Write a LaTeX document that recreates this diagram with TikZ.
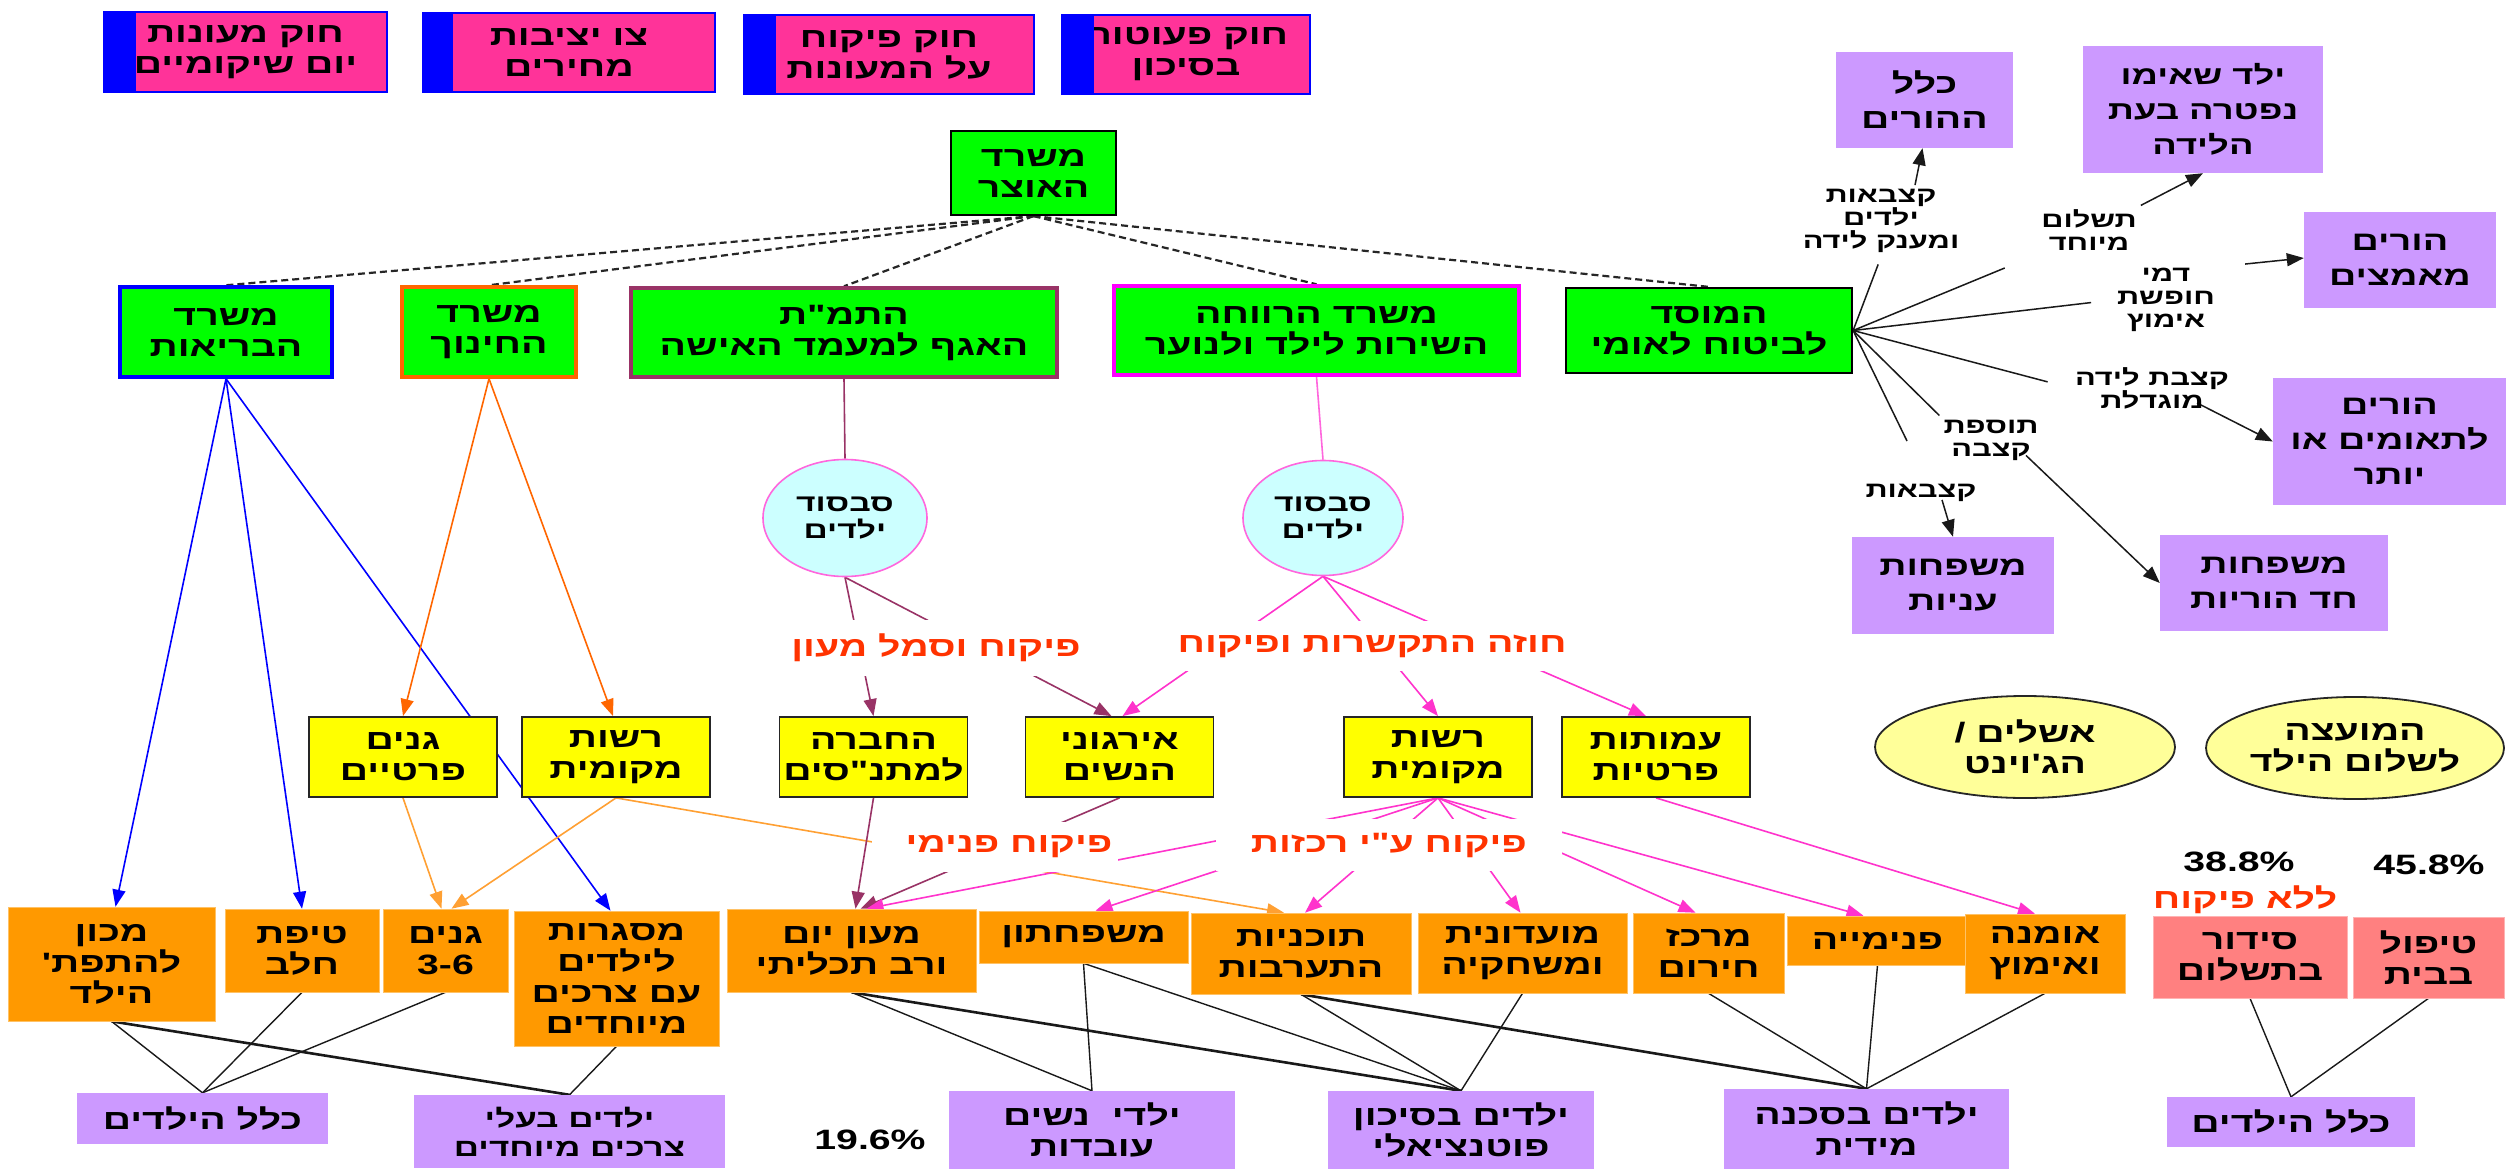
\documentclass[tikz,border=0pt]{standalone}
\usepackage{fontspec}
\setmainfont{Liberation Sans}[Script=Hebrew,FakeStretch=1.4,Ligatures=TeXOff]
\usetikzlibrary{shapes.geometric,arrows.meta,backgrounds}
\TeXXeTstate=1
\newcommand\hb[1]{\beginR#1\endR}
\newcommand\fz[2]{\fontsize{#1}{#2}\selectfont}
\definecolor{lawpink}{HTML}{FF3399}
\definecolor{cGreen}{HTML}{00FF00}
\definecolor{cYel}{HTML}{FFFF00}
\definecolor{cYel2}{HTML}{FFFF99}
\definecolor{cOrg}{HTML}{FF9900}
\definecolor{cPur}{HTML}{CC99FF}
\definecolor{cSal}{HTML}{FF8080}
\definecolor{cCyan}{HTML}{CCFFFF}
\definecolor{cMar}{HTML}{993366}
\definecolor{cMag}{HTML}{FF00FF}
\definecolor{cPink}{HTML}{FF33CC}
\definecolor{cPinkL}{HTML}{FF66DD}
\definecolor{cOrL}{HTML}{FFA033}
\definecolor{cOrD}{HTML}{FF6600}
\definecolor{cRed}{HTML}{FF3300}
\begin{document}
\begin{tikzpicture}[x=1pt,y=-1pt,
  every node/.style={font=\bfseries\fz{28}{31}, align=center, inner sep=2pt},
  sz/.style 2 args={minimum width=#1pt, minimum height=#2pt},
  law/.style={rectangle, fill=lawpink, draw=blue, line width=1.5pt},
  gbox/.style={rectangle, fill=cGreen},
  ybox/.style={rectangle, fill=cYel, draw=black!85, line width=1.8pt},
  obox/.style={rectangle, fill=cOrg, draw=cOrg!60!white, line width=0.6pt},
  pbox/.style={rectangle, fill=cPur},
  sbox/.style={rectangle, fill=cSal, draw=cSal!60!white, line width=0.6pt},
  sell/.style={ellipse, fill=cCyan, draw=cPinkL, line width=1.6pt, inner sep=0pt, font=\bfseries\fz{24}{27}},
  yell/.style={ellipse, fill=cYel2, draw=black!85, line width=1.8pt, inner sep=0pt},
  rlbl/.style={fill=white, text=cRed, inner xsep=35pt, inner ysep=14pt},
  klbl/.style={font=\bfseries\fz{22}{23}, inner sep=4pt},
  arr/.style={-{Triangle[length=17pt,width=13pt]}},
  dsh/.style={dash pattern=on 7pt off 4pt, line width=2.2pt, black!85},
  cn/.style={line width=1.6pt},
  bl/.style={black!90, line width=1.4pt},
  bltwo/.style={black!90, line width=2.6pt}
]
\useasboundingbox (0,0) rectangle (2506,1169);

% ---- law boxes
\node[law, sz={283}{80}] (lawA) at (245.5,52) {\hb{חוק מעונות}\\\hb{יום שיקומיים}};
\fill[blue] (lawA.north west) rectangle ([xshift=33pt]lawA.south west);
\node[law, sz={292}{79}] (lawB) at (569,52.5) {\hb{צו יציבות}\\\hb{מחירים}};
\fill[blue] (lawB.north west) rectangle ([xshift=31pt]lawB.south west);
\node[law, sz={290}{79}] (lawC) at (889,54.5) {\hb{חוק פיקוח}\\\hb{על המעונות}};
\fill[blue] (lawC.north west) rectangle ([xshift=33pt]lawC.south west);
\node[law, sz={248}{79}] (lawD) at (1186,54.5) {\hb{חוק פעוטות}\\\hb{בסיכון}};
\fill[blue] (lawD.north west) rectangle ([xshift=33pt]lawD.south west);

% ---- ministries
\node[gbox, draw=black, line width=2.2pt, sz={165}{84}] (oz) at (1033.5,173) {\hb{משרד}\\\hb{האוצר}};
\node[gbox, draw=blue, line width=3.5pt, sz={212}{90}] (health) at (226,332) {\hb{משרד}\\\hb{הבריאות}};
\node[gbox, draw=cOrD, line width=3.5pt, sz={174}{90}] (edu) at (489,332) {\hb{משרד}\\\hb{החינוך}};
\node[gbox, draw=cMar, line width=3.5pt, sz={426}{89}] (tamat) at (844,332.5) {\hb{התמ"ת}\\\hb{האגף למעמד האישה}};
\node[gbox, draw=cMag, line width=3.5pt, sz={405}{89}] (revacha) at (1316.5,330.5) {\hb{משרד הרווחה}\\\hb{השירות לילד ולנוער}};
\node[gbox, draw=black, line width=2.2pt, sz={286}{85}] (bituach) at (1709,330.5) {\hb{המוסד}\\\hb{לביטוח לאומי}};

% ---- subsidy ellipses
\node[sell, sz={164}{117}] (sub1) at (845,518) {\hb{סבסוד}\\\hb{ילדים}};
\node[sell, sz={160}{115}] (sub2) at (1323,518) {\hb{סבסוד}\\\hb{ילדים}};

% ---- yellow
\node[ybox, sz={188}{80}] (ganim) at (403,757) {\hb{גנים}\\\hb{פרטיים}};
\node[ybox, sz={188}{80}] (rashut1) at (616,757) {\hb{רשות}\\\hb{מקומית}};
\node[ybox, sz={188}{80}] (matnas) at (873.5,757) {\hb{החברה}\\\hb{למתנ"סים}};
\node[ybox, sz={188}{80}] (irgun) at (1119.5,757) {\hb{אירגוני}\\\hb{הנשים}};
\node[ybox, sz={188}{80}] (rashut2) at (1438,757) {\hb{רשות}\\\hb{מקומית}};
\node[ybox, sz={188}{80}] (amutot) at (1656,757) {\hb{עמותות}\\\hb{פרטיות}};
\node[yell, sz={300}{102}] (eshel) at (2025,747) {\hb{אשלים /}\\\hb{הג'וינט}};
\node[yell, sz={298}{102}] (moatza) at (2355,748) {\hb{המועצה}\\\hb{לשלום הילד}};

% ---- orange services
\node[obox, sz={207}{114}] (machon) at (111.5,964) {\hb{מכון}\\\hb{להתפת'}\\\hb{הילד}};
\node[obox, sz={154}{83}] (tipat) at (302,950.5) {\hb{טיפת}\\\hb{חלב}};
\node[obox, sz={125}{83}] (gan36) at (445.5,950.5) {\hb{גנים}\\3-6};
\node[obox, sz={205}{135}] (misgarot) at (616.5,978.5) {\hb{מסגרות}\\\hb{לילדים}\\\hb{עם צרכים}\\\hb{מיוחדים}};
\node[obox, sz={249}{83}] (maon) at (851.5,950.5) {\hb{מעון יום}\\\hb{ורב תכליתי}};
\node[obox, sz={209}{52}] (mishpachton) at (1083.5,937) {\hb{משפחתון}};
\node[obox, sz={220}{81}] (tochniot) at (1301,953.5) {\hb{תוכניות}\\\hb{התערבות}};
\node[obox, sz={209}{80}] (moadonit) at (1522.5,953) {\hb{מועדונית}\\\hb{ומשחקיה}};
\node[obox, sz={151}{80}] (merkaz) at (1708.5,953) {\hb{מרכז}\\\hb{חירום}};
\node[obox, sz={181}{49}] (pnimiya) at (1877.5,940.5) {\hb{פנימייה}};
\node[obox, sz={160}{79}] (omna) at (2045,953.5) {\hb{אומנה}\\\hb{ואימוץ}};
\node[sbox, sz={194}{82}] (sidur) at (2250,957) {\hb{סידור}\\\hb{בתשלום}};
\node[sbox, sz={151}{81}] (tipul) at (2428.5,957.5) {\hb{טיפול}\\\hb{בבית}};

% ---- purple target groups
\node[pbox, sz={251}{51}] (klalL) at (202.5,1118.5) {\hb{כלל הילדים}};
\node[pbox, sz={311}{73}, font=\bfseries\fz{25}{29}] (tzrachim) at (569.5,1131.5) {\hb{ילדים בעלי}\\\hb{צרכים מיוחדים}};
\node[pbox, sz={286}{78}] (nashim) at (1092,1130) {\hb{ילדי\ \ נשים}\\\hb{עובדות}};
\node[pbox, sz={266}{78}] (sikun) at (1461,1130) {\hb{ילדים בסיכון}\\\hb{פוטנציאלי}};
\node[pbox, sz={285}{80}] (sakana) at (1866.5,1129) {\hb{ילדים בסכנה}\\\hb{מידית}};
\node[pbox, sz={248}{50}] (klalR) at (2291,1122) {\hb{כלל הילדים}};
\node[pbox, sz={177}{96}, font=\bfseries\fz{28}{35}] (horim) at (1924.5,100) {\hb{כלל}\\\hb{ההורים}};
\node[pbox, sz={240}{127}, font=\bfseries\fz{26}{35}] (niftera) at (2203,109.5) {\hb{ילד שאימו}\\\hb{נפטרה בעת}\\\hb{הלידה}};
\node[pbox, sz={192}{96}, font=\bfseries\fz{27}{35}] (meamtzim) at (2400,260) {\hb{הורים}\\\hb{מאמצים}};
\node[pbox, sz={233}{127}, font=\bfseries\fz{27}{35}] (teomim) at (2389.5,441.5) {\hb{הורים}\\\hb{לתאומים או}\\\hb{יותר}};
\node[pbox, sz={202}{97}, font=\bfseries\fz{27}{35}] (aniyot) at (1953,585.5) {\hb{משפחות}\\\hb{עניות}};
\node[pbox, sz={228}{96}, font=\bfseries\fz{27}{35}] (chad) at (2274,583) {\hb{משפחות}\\\hb{חד הוריות}};

% ---- percentages
\node (pA) at (870,1140) {19.6\%};
\node (pB) at (2239,862) {38.8\%};
\node (pC) at (2429,865) {45.8\%};

% ---- red labels
\node[rlbl] (lbl1) at (936,648) {\hb{פיקוח וסמל מעון}};
\node[rlbl] (lbl2) at (1372,646) {\hb{חוזה התקשרות ופיקוח}};
\node[rlbl, inner xsep=6pt] (lbl3) at (995,847) {\hb{פיקוח פנימי\hspace{28pt}}};
\node[rlbl] (lbl4) at (1389,845) {\hb{פיקוח ע"י רכזות}};
\node[text=cRed] (lbl5) at (2245,900) {\hb{ללא פיקוח}};

% ---- benefit labels
\node[klbl] (kK1) at (1881,221) {\hb{קצבאות}\\\hb{ילדים}\\\hb{ומענק לידה}};
\node[klbl] (kT) at (2089,230) {\hb{תשלום}\\\hb{מיוחד}};
\node[klbl] (kD) at (2166,300) {\hb{דמי}\\\hb{חופשת}\\\hb{אימוץ}};
\node[klbl] (kKL) at (2152,388) {\hb{קצבת לידה}\\\hb{מוגדלת}};
\node[klbl] (kTK) at (1991,440) {\hb{תוספת}\\\hb{קצבה}};
\node[klbl] (kKV) at (1921,493) {\hb{קצבאות}};
\coordinate (cKV) at (1907,441);

\begin{pgfonlayer}{background}
\fill[white] (0,0) rectangle (2506,1169);
% dashed from treasury
\draw[dsh] (oz.south) -- (health.north);
\draw[dsh] (oz.south) -- (edu.north);
\draw[dsh] (oz.south) -- (tamat.north);
\draw[dsh] (oz.south) -- (revacha.north);
\draw[dsh] (oz.south) -- (bituach.north);
% subsidies
\draw[cn, cMar] (tamat.south) -- (sub1.north);
\draw[cn, cPinkL] (revacha.south) -- (sub2.north);
\draw[cn, cMar, arr] (sub1.south) -- (matnas.north);
\draw[cn, cMar, arr] (sub1.south) -- ([xshift=-8pt]irgun.north);
\draw[cn, cPink, arr] (sub2.south) -- ([xshift=3pt]irgun.north);
\draw[cn, cPink, arr] (sub2.south) -- (rashut2.north);
\draw[cn, cPink, arr] (sub2.south) -- ([xshift=-10pt]amutot.north);
% health
\draw[cn, blue, arr] (health.south) -- ([xshift=4pt]machon.north);
\draw[cn, blue, arr] (health.south) -- (tipat.north);
\draw[cn, blue, arr] (health.south) -- ([xshift=-6pt]misgarot.north);
% education
\draw[cn, cOrD, arr] (edu.south) -- (ganim.north);
\draw[cn, cOrD, arr] (edu.south) -- ([xshift=-3pt]rashut1.north);
\draw[cn, cOrL, arr] (ganim.south) -- ([xshift=-4pt]gan36.north);
\draw[cn, cOrL, arr] (rashut1.south) -- ([xshift=6pt]gan36.north);
\draw[cn, cOrL, arr] (rashut1.south) -- ([xshift=-17pt]tochniot.north);
% to day care
\draw[cn, cMar, arr] (matnas.south) -- ([xshift=4pt]maon.north);
\draw[cn, cMar, arr] (irgun.south) -- ([xshift=9pt]maon.north);
% local authority fan
\draw[cn, cPink, arr] (rashut2.south) -- ([xshift=15pt]maon.north);
\draw[cn, cPink, arr] (rashut2.south) -- ([xshift=12pt]mishpachton.north);
\draw[cn, cPink, arr] (rashut2.south) -- ([xshift=4pt]tochniot.north);
\draw[cn, cPink, arr] (rashut2.south) -- ([xshift=-2pt]moadonit.north);
\draw[cn, cPink, arr] (rashut2.south) -- ([xshift=-13pt]merkaz.north);
\draw[cn, cPink, arr] (rashut2.south) -- ([xshift=-14pt]pnimiya.north);
\draw[cn, cPink, arr] (amutot.south) -- ([xshift=-10pt]omna.north);
% services to target groups
\draw[bl] (machon.south) -- (klalL.north);
\draw[bltwo] (machon.south) -- (tzrachim.north);
\draw[bl] (tipat.south) -- (klalL.north);
\draw[bl] (gan36.south) -- (klalL.north);
\draw[bl] (misgarot.south) -- (tzrachim.north);
\draw[bl] (maon.south) -- (nashim.north);
\draw[bltwo] (maon.south) -- (sikun.north);
\draw[bl] (mishpachton.south) -- (nashim.north);
\draw[bl] (mishpachton.south) -- (sikun.north);
\draw[bl] (tochniot.south) -- (sikun.north);
\draw[bltwo] (tochniot.south) -- (sakana.north);
\draw[bl] (moadonit.south) -- (sikun.north);
\draw[bl] (merkaz.south) -- (sakana.north);
\draw[bl] (pnimiya.south) -- (sakana.north);
\draw[bl] (omna.south) -- (sakana.north);
\draw[bl] (sidur.south) -- (klalR.north);
\draw[bl] (tipul.south) -- (klalR.north);
% national insurance benefits
\draw[bl, line width=1.5pt, shorten >=8pt] (bituach.east) -- (kK1.south);
\draw[bl, line width=1.5pt, shorten >=35pt] (bituach.east) -- (kT.south west);
\draw[bl, line width=1.5pt, shorten >=22pt] (bituach.east) -- (kD.west);
\draw[bl, line width=1.5pt, shorten >=24pt] (bituach.east) -- (kKL.west);
\draw[bl, line width=1.5pt] (bituach.east) -- (kTK.north west);
\draw[bl, line width=1.5pt] (bituach.east) -- (cKV);
\draw[bl, line width=1.5pt, arr] ([xshift=34pt]kK1.north) -- ([xshift=-2pt]horim.south);
\draw[bl, line width=1.5pt, arr] (kT.north east) -- (niftera.south);
\draw[bl, line width=1.5pt, arr] ([xshift=26pt]kD.north east) -- ([yshift=2pt]meamtzim.west);
\draw[bl, line width=1.5pt, arr] ([xshift=45pt,yshift=10pt]kKL.south) -- (teomim.west);
\draw[bl, line width=1.5pt, arr] ([xshift=35pt,yshift=9pt]kTK.south) -- (chad.west);
\draw[bl, line width=1.5pt, arr] ([xshift=21pt,yshift=6pt]kKV.south) -- (aniyot.north);
\end{pgfonlayer}
\end{tikzpicture}
\end{document}
